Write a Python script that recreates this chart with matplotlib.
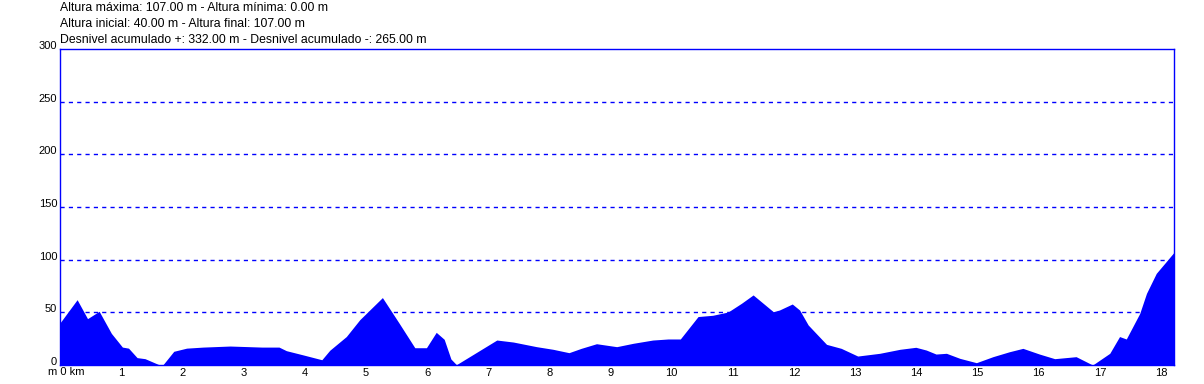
import matplotlib
matplotlib.use("Agg")
import matplotlib.pyplot as plt
import matplotlib.transforms as mtransforms

plt.rcParams["font.family"] = ["Liberation Sans", "DejaVu Sans"]

# Elevation profile (km, m)
dist_km = [0.0, 0.28, 0.45, 0.64, 0.84, 1.02, 1.12, 1.26, 1.39, 1.61, 1.68, 1.86,
           2.07, 2.34, 2.78, 3.30, 3.58, 3.70, 3.98, 4.28, 4.41, 4.68, 4.90, 5.27,
           5.54, 5.80, 5.99, 6.15, 6.28, 6.39, 6.48, 7.14, 7.41, 7.79, 8.06, 8.32,
           8.52, 8.77, 9.10, 9.37, 9.69, 9.94, 10.14, 10.43, 10.67, 10.92, 11.14,
           11.33, 11.66, 11.76, 11.97, 12.09, 12.23, 12.36, 12.53, 12.77, 13.04,
           13.40, 13.73, 13.99, 14.16, 14.32, 14.49, 14.71, 14.98, 15.25, 15.52,
           15.74, 16.01, 16.26, 16.61, 16.88, 17.16, 17.32, 17.43, 17.65, 17.76,
           17.92, 18.08, 18.21]
elev_m = [40, 62, 44, 51, 30, 17, 16, 7, 6, 0.5, 0, 13,
          16, 17, 18, 17, 17, 13.6, 9.5, 5, 14, 27, 43, 64,
          40, 16.4, 16.4, 31, 24.4, 5.7, 0.3, 23.7, 21.8, 17.4, 14.9, 11.7,
          15.8, 20.2, 17.4, 20.6, 23.7, 24.7, 24.7, 46, 47.2, 50.3, 58.6,
          66.5, 50.6, 52.2, 57.9, 52.2, 38, 30, 19.6, 15.8, 8.5,
          11.1, 14.9, 16.8, 14.2, 10.4, 11.1, 6.3, 2.2, 7.9, 12.6,
          15.8, 10.4, 6, 7.9, 0, 11.1, 27, 24.7, 49, 68,
          87, 98, 107]

y_ticks = [0, 50, 100, 150, 200, 250, 300]
x_ticks = list(range(1, 19))

header = [
    "Altura máxima: 107.00 m - Altura mínima: 0.00 m",
    "Altura inicial: 40.00 m - Altura final: 107.00 m",
    "Desnivel acumulado +: 332.00 m - Desnivel acumulado -: 265.00 m",
]

W, H = 1204, 384
fig = plt.figure(figsize=(W / 100, H / 100), dpi=100)
fig.patch.set_facecolor("white")
ax = fig.add_axes([60 / W, 1 - 365 / H, (1174 - 60) / W, (365 - 49) / H])

ax.fill_between(dist_km, elev_m, 0, color="#0000ff", linewidth=0)
ax.set_xlim(0, dist_km[-1])
ax.set_ylim(0, 300)

for v in y_ticks[1:-1]:
    ax.axhline(v, color="#0000ff", linestyle=(0, (3, 3)), linewidth=1)

for s in ax.spines.values():
    s.set_color("#0000ff")
    s.set_linewidth(1)

ax.set_yticks(y_ticks)
ax.set_yticklabels([str(v) for v in y_ticks])
ax.set_xticks(x_ticks)
ax.set_xticklabels([str(v) for v in x_ticks])
ax.tick_params(axis="both", length=0, labelsize=8, colors="black")
ax.tick_params(axis="y", pad=2)
ax.tick_params(axis="x", pad=2.5)

# y labels sit just above their grid line
up = mtransforms.ScaledTranslation(0, 4 / 100, fig.dpi_scale_trans)
for lab in ax.get_yticklabels():
    lab.set_transform(lab.get_transform() + up)

fig.text(48 / W, 1 - 372 / H, "m 0 km", fontsize=8, va="center", ha="left")

for i, line in enumerate(header):
    fig.text(60 / W, 1 - (8 + 16 * i) / H, line, fontsize=8.8, va="center", ha="left")

fig.savefig("out.png", dpi=100, facecolor=fig.get_facecolor())
